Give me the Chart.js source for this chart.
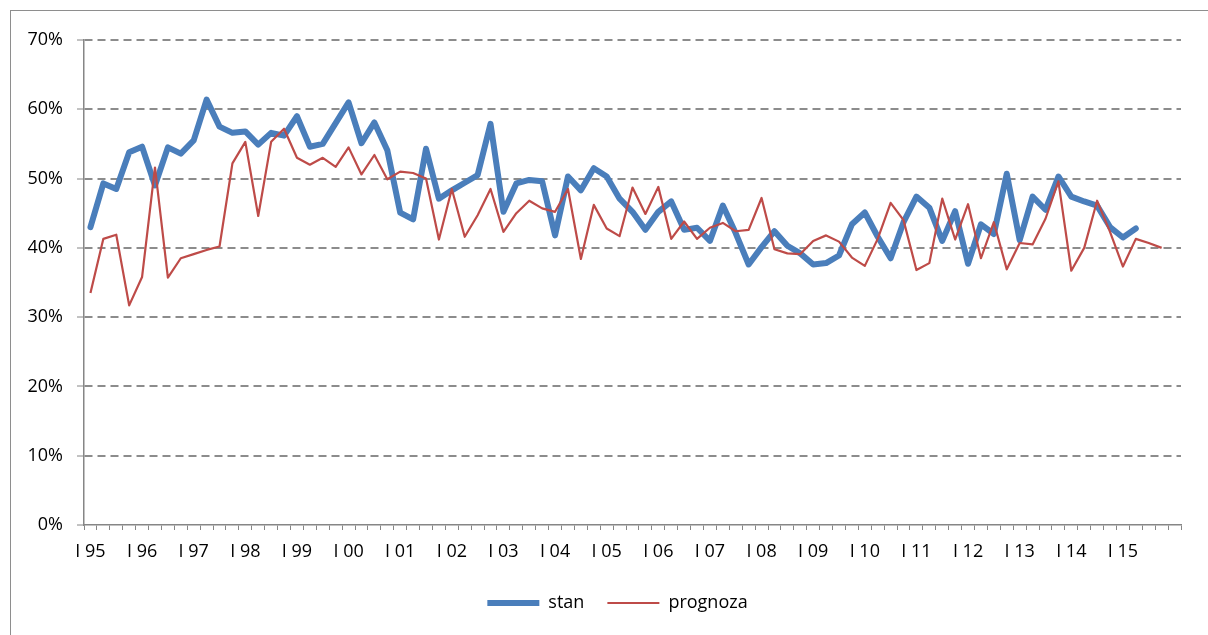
<!DOCTYPE html>
<html>
<head>
<meta charset="utf-8">
<script src="https://cdn.jsdelivr.net/npm/chart.js@4.4.0/dist/chart.umd.min.js"></script>
<style>
    html, body { margin: 0; padding: 0; background: #ffffff; overflow: hidden; }
    #wrap { position: relative; width: 1208px; height: 635px; }
    #frame {
        position: absolute; left: 10px; top: 10px; width: 1300px; height: 700px;
        border-left: 1px solid #8e8e8e; border-top: 1px solid #8e8e8e;
    }
    #chart { position: absolute; left: 0; top: 0; }
</style>
</head>
<body>
<div id="wrap">
    <div id="frame"></div>
    <canvas id="chart" width="1208" height="635"></canvas>
</div>
<script>
// Years shown on the category axis (one category per quarter)
const years = ['95', '96', '97', '98', '99', '00', '01', '02', '03', '04',
    '05', '06', '07', '08', '09', '10', '11', '12', '13', '14', '15'];
const quarters = ['I', 'II', 'III', 'IV'];

// Quarterly values in percent, I 95 onwards
const stan = [
    43.0, 49.3, 48.5, 53.8, 54.6, 49.0, 54.5, 53.6, 55.5, 61.4,
    57.5, 56.6, 56.8, 54.9, 56.6, 56.2, 59.0, 54.6, 55.0, 58.0,
    61.0, 55.1, 58.1, 54.1, 45.1, 44.1, 54.3, 47.1, 48.3, 49.4,
    50.5, 57.9, 45.2, 49.3, 49.8, 49.6, 41.8, 50.3, 48.3, 51.5,
    50.3, 47.1, 45.2, 42.6, 45.2, 46.7, 42.6, 42.9, 41.0, 46.1,
    42.1, 37.6, 40.1, 42.4, 40.3, 39.2, 37.6, 37.8, 38.9, 43.4,
    45.1, 41.6, 38.5, 43.7, 47.4, 45.8, 41.0, 45.3, 37.7, 43.4,
    42.0, 50.7, 41.1, 47.4, 45.5, 50.3, 47.4, 46.7, 46.1, 43.0,
    41.5, 42.8
];

const prognoza = [
    33.5, 41.3, 41.9, 31.7, 35.8, 51.6, 35.7, 38.5, 39.1, 39.7,
    40.2, 52.2, 55.3, 44.6, 55.3, 57.2, 53.0, 52.0, 53.0, 51.7,
    54.5, 50.6, 53.4, 49.9, 51.0, 50.8, 50.0, 41.2, 48.5, 41.6,
    44.7, 48.5, 42.3, 45.0, 46.8, 45.7, 45.2, 48.5, 38.4, 46.2,
    42.8, 41.7, 48.7, 44.9, 48.8, 41.3, 43.8, 41.3, 42.9, 43.6,
    42.4, 42.6, 47.2, 39.8, 39.2, 39.1, 41.0, 41.8, 40.9, 38.6,
    37.4, 41.3, 46.5, 44.0, 36.8, 37.8, 47.1, 41.2, 46.3, 38.5,
    43.7, 36.9, 40.7, 40.5, 44.2, 49.6, 36.7, 40.0, 46.8, 42.3,
    37.3, 41.3, 40.7, 40.0
];

// Category labels: every quarter, plus one empty slot at the end of the axis
const categories = years.flatMap(y => quarters.map(q => q + ' ' + y));
categories.push('');

const axisGray = '#868686';

// Center the legend under the plot area rather than the whole canvas
const legendShift = {
    id: 'legendShift',
    afterLayout(chart) {
        if (chart.legend) chart.legend.left = 54;
    }
};

Chart.defaults.font.family = "'Open Sans', sans-serif";
Chart.defaults.font.size = 18;
Chart.defaults.color = '#000000';

new Chart(document.getElementById('chart'), {
    type: 'line',
    data: {
        labels: categories,
        datasets: [
            {
                label: 'stan',
                data: stan,
                borderColor: '#4a7ebb',
                backgroundColor: '#4a7ebb',
                borderWidth: 6,
                borderJoinStyle: 'round',
                borderCapStyle: 'round',
                pointRadius: 0,
                pointStyle: 'line',
                tension: 0,
                order: 1
            },
            {
                label: 'prognoza',
                data: prognoza,
                borderColor: '#be4b48',
                backgroundColor: '#be4b48',
                borderWidth: 2.2,
                borderJoinStyle: 'round',
                pointRadius: 0,
                pointStyle: 'line',
                tension: 0,
                order: 0
            }
        ]
    },
    plugins: [legendShift],
    options: {
        responsive: false,
        devicePixelRatio: 1,
        animation: false,
        layout: {
            padding: { left: 0, right: 27, top: 40, bottom: 13 }
        },
        scales: {
            x: {
                type: 'category',
                offset: true,
                afterFit: scale => { scale.height = 46; },
                grid: {
                    offset: true,
                    drawOnChartArea: false,
                    tickLength: 5,
                    tickColor: axisGray,
                    tickWidth: 1
                },
                border: { color: axisGray, width: 1.5 },
                ticks: {
                    autoSkip: false,
                    maxRotation: 0,
                    minRotation: 0,
                    padding: 11,
                    callback: (value, index) => index % 4 === 0 ? categories[index] : ''
                }
            },
            y: {
                min: 0,
                max: 70,
                afterFit: scale => { scale.width = 84; },
                grid: {
                    color: ctx => ctx.tick && ctx.tick.value === 0 ? 'rgba(0,0,0,0)' : '#8c8c8c',
                    lineWidth: 2,
                    tickLength: 7,
                    tickColor: axisGray,
                    tickWidth: 1
                },
                border: { color: axisGray, width: 1.5, dash: [8, 5] },
                ticks: {
                    stepSize: 10,
                    padding: 14,
                    callback: value => value + '%'
                }
            }
        },
        plugins: {
            legend: {
                position: 'bottom',
                labels: {
                    usePointStyle: true,
                    pointStyle: 'line',
                    pointStyleWidth: 52,
                    padding: 23,
                    sort: (a, b) => a.datasetIndex - b.datasetIndex
                }
            },
            tooltip: { enabled: false }
        }
    }
});
</script>
</body>
</html>
